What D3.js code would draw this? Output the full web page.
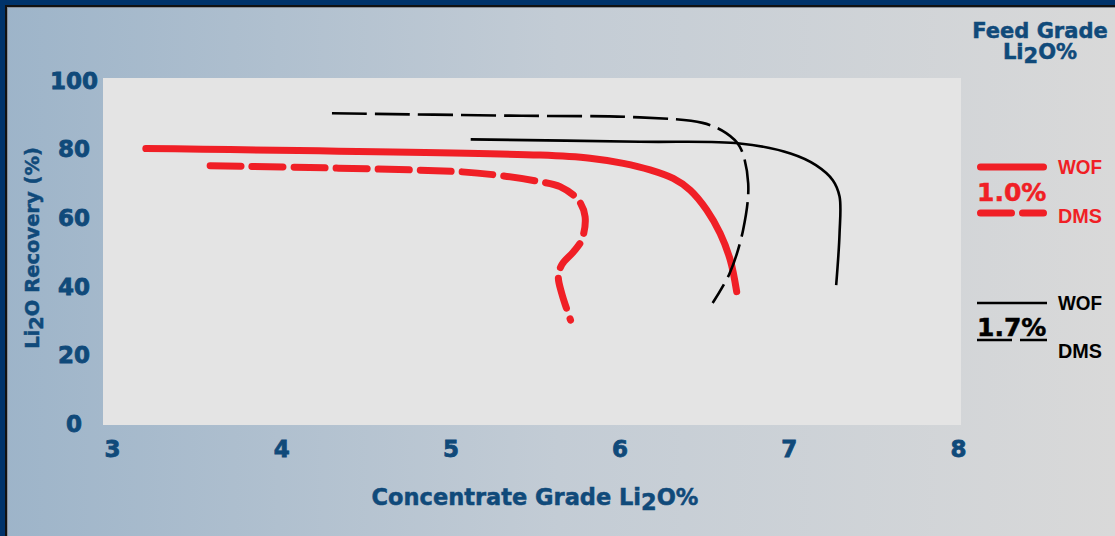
<!DOCTYPE html>
<html>
<head>
<meta charset="utf-8">
<script src="https://cdn.jsdelivr.net/npm/d3@7"></script>
<style>
	body { margin: 0; background: #d9d9d9; }
	svg { display: block; }
	.tick-label { font-family: 'DejaVu Sans', sans-serif; font-weight: bold; font-size: 23px; fill: #104a7a; stroke: #104a7a; stroke-width: 0.8px; }
	.axis-label { font-family: 'DejaVu Sans', sans-serif; font-weight: bold; fill: #104a7a; stroke: #104a7a; stroke-width: 0.5px; }
	.legend-tag { font-family: 'Liberation Sans', sans-serif; font-weight: bold; font-size: 21px; }
	.legend-grade { font-family: 'DejaVu Sans', sans-serif; font-weight: bold; font-size: 25px; stroke-width: 0.5px; }
</style>
</head>
<body>
<div id="chart"></div>
<script>
// tick labels
const xTicks = [3, 4, 5, 6, 7, 8];
const yTicks = [0, 20, 40, 60, 80, 100];

// legend
const feedGrades = ['1.0%', '1.7%'];
const circuits = ['WOF', 'DMS'];

// 1.0% feed, WOF
const wof10Grade = [3.20, 5.53, 5.825, 6.022, 6.18, 6.317, 6.417, 6.515, 6.594, 6.654, 6.692];
const wof10Recovery = [80.0, 78.1, 77.2, 75.7, 73.8, 71.3, 67.9, 62.1, 55.3, 47.5, 38.3];

// 1.0% feed, DMS
const dms10Grade = [3.58, 5.04, 5.27, 5.53, 5.648, 5.756, 5.796, 5.776, 5.727, 5.658, 5.638, 5.658, 5.71];
const dms10Recovery = [75.0, 73.3, 72.3, 70.35, 68.9, 65.0, 60.15, 53.35, 49.9, 46.1, 42.65, 37.8, 30.0];

// 1.7% feed, WOF
const wof17Grade = [5.12, 6.12, 6.71, 7.01, 7.16, 7.26, 7.30, 7.30, 7.28];
const wof17Recovery = [82.7, 82.0, 81.5, 78.6, 75.2, 70.8, 66.0, 55.3, 40.2];

// 1.7% feed, DMS
const dms17Grade = [4.30, 5.35, 6.12, 6.49, 6.63, 6.71, 6.76, 6.73, 6.65, 6.55];
const dms17Recovery = [90.3, 89.6, 89.1, 87.5, 84.5, 80.6, 69.9, 56.3, 43.6, 35.0];

const width = 1115;
const height = 536;
const red = '#f01f26';

const styles = {
	'1.0%': { color: red, width: 7, cap: 'round', dash: '31,11' },
	'1.7%': { color: '#000', width: 2.6, cap: 'butt', dash: '35,8' }
};

const series = [
	{ grade: '1.0%', circuit: 'WOF', xs: wof10Grade, ys: wof10Recovery },
	{ grade: '1.0%', circuit: 'DMS', xs: dms10Grade, ys: dms10Recovery },
	{ grade: '1.7%', circuit: 'WOF', xs: wof17Grade, ys: wof17Recovery },
	{ grade: '1.7%', circuit: 'DMS', xs: dms17Grade, ys: dms17Recovery }
];

const svg = d3.select('#chart').append('svg')
	.attr('width', width)
	.attr('height', height);

// background gradient
const defs = svg.append('defs');
const grad = defs.append('linearGradient')
	.attr('id', 'bg')
	.attr('x1', 0).attr('x2', 1).attr('y1', 0).attr('y2', 0);
grad.append('stop').attr('offset', '0%').attr('stop-color', '#9db4c9');
grad.append('stop').attr('offset', '50%').attr('stop-color', '#c3ccd5');
grad.append('stop').attr('offset', '100%').attr('stop-color', '#d9d9d9');

svg.append('rect')
	.attr('width', width)
	.attr('height', height)
	.attr('fill', 'url(#bg)');

// frame on top and left
svg.append('rect').attr('width', width).attr('height', 5).attr('fill', '#00336a');
svg.append('rect').attr('width', 5).attr('height', height).attr('fill', '#00336a');
svg.append('rect').attr('x', 5).attr('y', 5).attr('width', width).attr('height', 2).attr('fill', '#111');
svg.append('rect').attr('x', 5).attr('y', 5).attr('width', 2).attr('height', height).attr('fill', '#111');
svg.append('rect').attr('x', 7).attr('y', 7).attr('width', width).attr('height', 1).attr('fill', '#8a8f96');
svg.append('rect').attr('x', 7).attr('y', 7).attr('width', 1).attr('height', height).attr('fill', '#8a8f96');

// scales
const x = d3.scaleLinear()
	.domain([3, 8])
	.range([112, 958]);
const y = d3.scaleLinear()
	.domain([0, 100])
	.range([423, 80]);

// plot area
svg.append('rect')
	.attr('x', x(3) - 9)
	.attr('y', y(100) - 2)
	.attr('width', x(8) - x(3) + 12)
	.attr('height', y(0) - y(100) + 4)
	.attr('fill', '#e4e4e4');

// axes
const xAxisG = svg.append('g')
	.attr('transform', 'translate(0, 449)')
	.call(d3.axisBottom(x).tickValues(xTicks).tickSize(0).tickPadding(0).tickFormat(d3.format('d')));
const yAxisG = svg.append('g')
	.attr('transform', 'translate(74, 0)')
	.call(d3.axisLeft(y).tickValues(yTicks).tickSize(0).tickPadding(0));
[xAxisG, yAxisG].forEach(g => {
	g.select('.domain').remove();
	g.selectAll('text')
		.attr('class', 'tick-label')
		.attr('fill', null)
		.attr('font-size', null)
		.attr('font-family', null)
		.attr('text-anchor', 'middle')
		.attr('x', 0)
		.attr('y', 0)
		.attr('dy', '0.36em');
});

// axis labels
const xLabel = svg.append('text')
	.attr('class', 'axis-label')
	.attr('x', (x(3) + x(8)) / 2)
	.attr('y', 505)
	.attr('text-anchor', 'middle')
	.style('font-size', '22.5px');
xLabel.append('tspan').text('Concentrate Grade Li');
xLabel.append('tspan').attr('dy', 5).text('2');
xLabel.append('tspan').attr('dy', -5).text('O%');

const yLabel = svg.append('text')
	.attr('class', 'axis-label')
	.attr('transform', 'translate(39, 248) rotate(-90)')
	.attr('text-anchor', 'middle')
	.style('font-size', '19.5px');
yLabel.append('tspan').text('Li');
yLabel.append('tspan').attr('dy', 4).text('2');
yLabel.append('tspan').attr('dy', -4).text('O Recovery (%)');

// curves
const line = d3.line()
	.x(d => x(d[0]))
	.y(d => y(d[1]))
	.curve(d3.curveCatmullRom.alpha(0.5));

svg.selectAll('.series')
	.data(series)
	.enter().append('path')
		.attr('class', 'series')
		.attr('d', d => line(d.xs.map((v, i) => [v, d.ys[i]])))
		.attr('fill', 'none')
		.attr('stroke', d => styles[d.grade].color)
		.attr('stroke-width', d => styles[d.grade].width)
		.attr('stroke-linecap', d => styles[d.grade].cap)
		.attr('stroke-linejoin', 'round')
		.attr('stroke-dasharray', d => d.circuit === 'DMS' ? styles[d.grade].dash : null);

// legend
const legendX = 977;
svg.append('text')
	.attr('class', 'axis-label')
	.attr('x', 1040)
	.attr('y', 38)
	.attr('text-anchor', 'middle')
	.style('font-size', '21px')
	.text('Feed Grade');
const titleLi = svg.append('text')
	.attr('class', 'axis-label')
	.attr('x', 1040)
	.attr('y', 59)
	.attr('text-anchor', 'middle')
	.style('font-size', '21px');
titleLi.append('tspan').text('Li');
titleLi.append('tspan').attr('dy', 4).text('2');
titleLi.append('tspan').attr('dy', -4).text('O%');

const legendTops = [167, 303];
feedGrades.forEach((fg, gi) => {
	const st = styles[fg];
	const top = legendTops[gi];
	const g = svg.append('g').attr('transform', `translate(0, ${top})`);
	circuits.forEach((c, ci) => {
		const ly = ci === 0 ? 0 : (gi === 0 ? 46 : 37);
		const inset = st.cap === 'round' ? st.width / 2 : 0;
		g.append('line')
			.attr('x1', legendX + inset)
			.attr('x2', legendX + 70 - inset)
			.attr('y1', ly)
			.attr('y2', ly)
			.attr('stroke', st.color)
			.attr('stroke-width', st.width)
			.attr('stroke-linecap', st.cap)
			.attr('stroke-dasharray', c === 'DMS' ? st.dash : null);
		g.append('text')
			.attr('class', 'legend-tag')
			.attr('x', legendX + 81)
			.attr('y', ci === 0 ? -1 : (gi === 0 ? 48 : 47))
			.attr('dy', '0.36em')
			.attr('textLength', 44)
			.attr('lengthAdjust', 'spacingAndGlyphs')
			.attr('fill', st.color)
			.text(c);
	});
	g.append('text')
		.attr('class', 'legend-grade')
		.attr('x', legendX)
		.attr('y', gi === 0 ? 25 : 24)
		.attr('dy', '0.36em')
		.attr('fill', st.color)
		.attr('stroke', st.color)
		.text(fg);
});
</script>
</body>
</html>
